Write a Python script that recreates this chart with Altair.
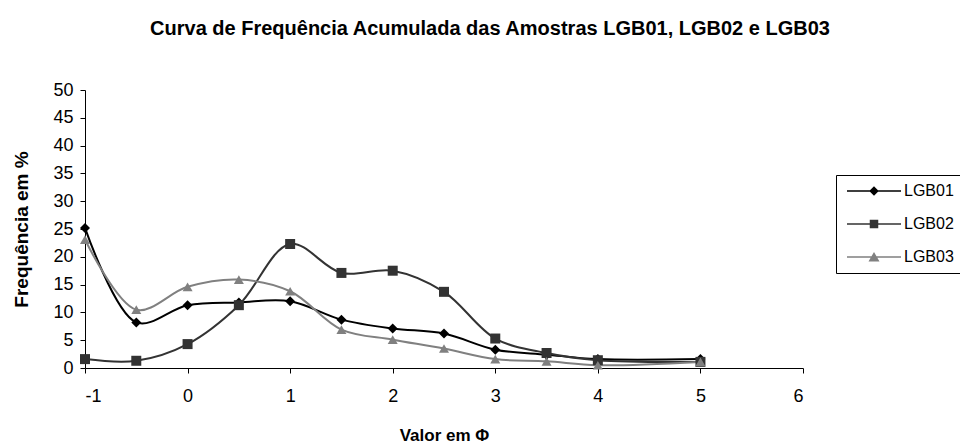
import altair as alt
import pandas as pd

# ---- data ----
x_vals = [-1, -0.5, 0, 0.5, 1, 1.5, 2, 2.5, 3, 3.5, 4, 5]
lgb01 = [25.2, 8.2, 11.3, 11.8, 12.0, 8.7, 7.1, 6.2, 3.3, 2.4, 1.6, 1.6]
lgb02 = [1.6, 1.3, 4.3, 11.3, 22.3, 17.1, 17.5, 13.7, 5.3, 2.7, 1.4, 1.1]
lgb03 = [23.1, 10.5, 14.6, 15.9, 13.8, 6.9, 5.1, 3.5, 1.6, 1.2, 0.5, 1.1]

series_names = ["LGB01", "LGB02", "LGB03"]
series_colors = ["#000000", "#333333", "#808080"]
series_shapes = ["diamond", "square", "triangle-up"]
# legend symbols: line with marker in the middle
legend_paths = [
    "M-1,-0.15H9.8V0.15H-1Z M4.4,-0.95L5.35,0L4.4,0.95L3.45,0Z",
    "M-1,-0.15H9.8V0.15H-1Z M3.55,-0.85H5.25V0.85H3.55Z",
    "M-1,-0.15H9.8V0.15H-1Z M4.4,-1.0L5.5,0.9L3.3,0.9Z",
]
x_ticks = [-1, 0, 1, 2, 3, 4, 5, 6]
y_ticks = [0, 5, 10, 15, 20, 25, 30, 35, 40, 45, 50]

rows = []
for name, vals in zip(series_names, [lgb01, lgb02, lgb03]):
    for i, (xv, yv) in enumerate(zip(x_vals, vals)):
        rows.append({"series": name, "x": xv, "y": yv, "idx": i})
df = pd.DataFrame(rows)

FONT = "Liberation Sans"

x_enc = alt.X(
    "x:Q",
    scale=alt.Scale(domain=[-1, 6], nice=False, zero=False),
    axis=alt.Axis(
        values=x_ticks, title="Valor em Φ", grid=False,
        labelExpr="'' + datum.value", labelOverlap=False,
        tickSize=5, labelPadding=14, titlePadding=22,
        labelFontSize=18, titleFontSize=17, titleFontWeight="bold",
        domainColor="black", tickColor="black", labelColor="black", titleColor="black",
        labelFont=FONT, titleFont=FONT,
    ),
)
y_enc = alt.Y(
    "y:Q",
    scale=alt.Scale(domain=[0, 50], nice=False),
    axis=alt.Axis(
        values=y_ticks, title="Frequência em %", grid=False,
        labelExpr="'' + datum.value", labelOverlap=False,
        tickSize=5, labelPadding=7, titlePadding=21,
        labelFontSize=18, titleFontSize=19, titleFontWeight="bold",
        domainColor="black", tickColor="black", labelColor="black", titleColor="black",
        labelFont=FONT, titleFont=FONT,
    ),
)

color_main = alt.Color(
    "series:N",
    scale=alt.Scale(domain=series_names, range=series_colors),
    legend=None,
)

base = alt.Chart(df).encode(x=x_enc, y=y_enc)

lines = base.mark_line(interpolate="catmull-rom", strokeWidth=2).encode(
    color=color_main, order="idx:Q", detail="series:N"
)

points = base.mark_point(filled=True, size=100, opacity=1).encode(
    color=color_main,
    shape=alt.Shape("series:N", scale=alt.Scale(domain=series_names, range=series_shapes), legend=None),
)

legend_props = dict(
    title=None, orient="none", legendX=751, legendY=85,
    labelFont=FONT, labelFontSize=16, labelColor="black",
    labelOffset=44, rowPadding=17, padding=8,
    strokeColor="black", fillColor="white",
    symbolSize=100, symbolStrokeWidth=0,
)

legend_layer = base.transform_filter("datum.x > 100").mark_point(
    filled=True, size=100, opacity=1
).encode(
    color=alt.Color(
        "series:N",
        scale=alt.Scale(domain=series_names, range=series_colors),
        legend=alt.Legend(**legend_props),
    ),
    shape=alt.Shape(
        "series:N",
        scale=alt.Scale(domain=series_names, range=legend_paths),
        legend=alt.Legend(**legend_props),
    ),
)

chart = (
    alt.layer(lines, points, legend_layer)
    .resolve_scale(color="independent", shape="independent")
    .properties(
        width=718, height=278,
        title=alt.TitleParams(
            "Curva de Frequência Acumulada das Amostras LGB01, LGB02 e LGB03",
            font=FONT, fontSize=20, fontWeight="bold", color="black",
            anchor="middle", dx=46, offset=42,
        ),
        autosize=alt.AutoSizeParams(type="none"),
        padding={"left": 77, "top": 82, "right": 157, "bottom": 82},
    )
    .configure(background="white")
    .configure_view(strokeWidth=0, stroke="transparent")
)

chart.save("out.html", embed_options={"renderer": "svg", "actions": False})
